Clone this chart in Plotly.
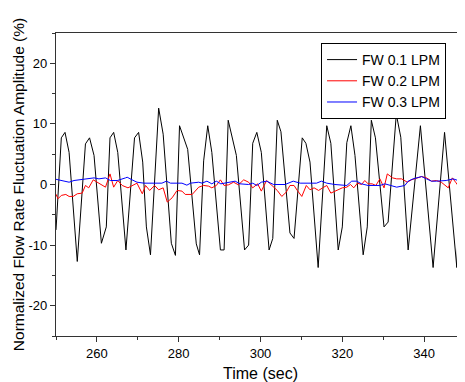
import plotly.graph_objects as go

# FW 0.1 LPM (black)
t1 = [250.0, 251.3, 252.2, 253.2, 255.2, 257.2, 258.2, 259.3, 261.1, 262.3, 263.2, 264.1, 265.1,
      267.1, 269.2, 270.2, 271.2, 272.1, 273.1, 275.1, 276.2, 278.2, 279.2, 280.2, 282.2, 284.3,
      285.1, 286.1, 287.1, 288.1, 290.2, 291.1, 292.1, 294.1, 296.1, 297.1, 298.1, 299.1, 300.2,
      302.1, 303.0, 304.1, 305.0, 307.2, 308.2, 310.2, 311.1, 312.1, 314.1, 316.2, 317.2, 319.0,
      320.0, 321.1, 322.1, 323.1, 325.1, 326.1, 327.1, 328.1, 330.2, 331.2, 333.2, 334.3, 336.1,
      339.1, 342.2, 345.0, 348.0, 349.1, 350.0]
v1 = [-7.5, 7.7, 8.6, 5.3, -12.7, 6.7, 7.7, 4.8, -9.7, -7.0, 7.7, 8.6, 5.3,
      -10.8, 7.7, 8.6, 3.7, -7.0, -11.6, 12.6, 8.3, -9.7, -11.7, 9.7, 5.8, -9.8,
      -11.6, 3.9, 9.7, 5.3, -10.8, -10.8, 10.6, 4.8, -10.8, -10.0, 6.8, 8.6, 5.3,
      -10.8, -8.9, 10.6, 8.7, -8.0, -8.9, 7.7, 6.8, 3.7, -13.7, 9.7, 6.8, -10.8,
      -7.0, 6.9, 9.7, 4.8, -11.6, -7.0, 10.6, 7.7, -7.0, -6.2, 11.6, 7.8, -10.8,
      9.7, -13.7, 8.6, -13.7, 7.7, 7.7]

# FW 0.2 LPM (red)
t2 = [249.9, 250.5, 251.3, 252.4, 253.2, 254.2, 255.2, 256.4, 257.2, 258.0, 259.1, 260.1, 262.1,
      263.2, 264.1, 265.1, 266.2, 267.6, 268.6, 269.8, 271.1, 271.9, 272.9, 274.1, 275.1, 276.2,
      277.2, 278.4, 279.6, 280.8, 281.6, 283.3, 284.9, 286.1, 287.3, 288.1, 289.2, 290.2, 291.1,
      292.2, 293.4, 294.6, 295.9, 297.1, 298.1, 299.3, 300.2, 301.5, 302.8, 304.1, 305.2, 306.3,
      307.2, 308.2, 309.0, 310.1, 311.2, 312.1, 313.1, 314.2, 315.2, 316.2, 317.2, 319.0, 320.0,
      321.1, 322.0, 322.8, 323.7, 324.7, 325.5, 326.3, 327.3, 328.2, 329.2, 330.2, 331.0, 332.3,
      333.3, 334.5, 335.9, 336.9, 338.1, 339.4, 340.6, 341.8, 343.0, 344.2, 345.9, 346.9, 347.7,
      348.7, 349.8]
v2 = [-1.5, -2.35, -1.8, -1.64, -1.97, -1.97, -1.53, -1.42, -0.16, -0.55, 0.77, 0.38, -0.44,
      1.75, -0.44, 0.66, -0.16, -0.55, -0.16, 0.22, -1.53, -0.16, -0.98, -0.16, -0.87, -0.55,
      -2.9, -2.19, -0.98, -1.09, -1.64, -1.64, -0.44, -0.16, -0.27, -0.55, -0.16, 0.77, -0.16,
      -0.05, 0.38, -0.05, 0.77, 0.38, -0.55, 0.11, -1.09, 0.66, -0.16, -0.98, -1.97, -1.26,
      -0.16, -0.16, -0.98, -1.97, -0.16, -0.87, -0.55, -0.98, -0.55, -0.16, -1.42, -0.87, -0.55,
      -0.44, 0.0, -0.55, 0.22, 0.0, 0.66, 0.11, 0.11, -0.16, 0.93, -0.55, 1.75, 1.09,
      0.93, 0.93, 0.38, 0.77, 1.09, 1.31, 1.09, 0.55, 0.66, 0.38, -0.55, 1.09, 0.38,
      -0.55, 0.11]

# FW 0.3 LPM (blue)
t3 = [249.5, 250.7, 251.9, 253.2, 254.4, 255.6, 256.8, 258.0, 259.3, 260.5, 262.1, 263.3, 265.0,
      267.0, 267.4, 268.6, 269.8, 271.5, 273.9, 275.9, 277.0, 278.0, 280.8, 282.0, 282.9, 284.9,
      285.7, 286.9, 288.1, 289.2, 290.3, 291.4, 293.8, 295.0, 297.1, 298.1, 299.1, 300.2, 301.5,
      303.2, 306.0, 308.0, 309.7, 313.7, 314.9, 316.2, 318.2, 321.1, 322.3, 323.5, 324.7, 326.3,
      329.2, 330.4, 331.6, 333.3, 335.3, 336.1, 337.3, 338.5, 339.4, 340.6, 341.8, 343.0, 345.4,
      347.1, 348.3, 349.8]
v3 = [0.93, 0.77, 0.55, 0.38, 0.66, 0.77, 0.93, 0.93, 1.09, 0.93, 1.09, 0.66, 0.66,
      1.09, 1.2, 0.77, 0.38, 0.22, 0.22, 0.22, 0.55, 0.22, 0.22, -0.11, 0.22, 0.38,
      0.22, 0.55, 0.11, 0.55, 0.11, 0.22, 0.55, 0.11, 0.0, 0.22, -0.16, 0.38, 0.55,
      0.0, 0.0, 0.55, 0.22, 0.22, 0.55, 0.22, 0.0, -0.16, 0.55, 0.55, 0.11, -0.16,
      -0.16, 0.11, -0.16, -0.44, -0.16, 0.55, 0.93, 1.09, 1.31, 0.93, 0.55, 0.55, 0.66,
      0.93, 0.66, 0.93]

x_ticks = [260, 280, 300, 320, 340]
y_ticks = [-20, -10, 0, 10, 20]
y_tick_text = ["-20", "-10", "0", "10", "20"]

FONT = "Liberation Sans, Arial, sans-serif"
AX = "#333333"

fig = go.Figure()
fig.add_trace(go.Scatter(x=t1, y=v1, mode="lines", name="FW 0.1 LPM",
                         line=dict(color="#000000", width=1)))
fig.add_trace(go.Scatter(x=t2, y=v2, mode="lines", name="FW 0.2 LPM",
                         line=dict(color="#ff0000", width=1)))
fig.add_trace(go.Scatter(x=t3, y=v3, mode="lines", name="FW 0.3 LPM",
                         line=dict(color="#0000ff", width=1)))

axis_common = dict(showgrid=False, zeroline=False, ticks="outside", ticklen=5,
                   linecolor=AX, linewidth=1.2, tickcolor=AX, showline=True,
                   tickfont=dict(family=FONT, size=13, color="#000000"))

# The page body adds an 8px offset, so the figure is sized to fit the 465x382 window.
fig.update_layout(
    width=457, height=374,
    margin=dict(l=48, r=0, t=25, b=46, autoexpand=False),
    paper_bgcolor="white", plot_bgcolor="white",
    font=dict(family=FONT, color="#000000"),
    showlegend=True,
    legend=dict(x=0.648, y=0.967, xanchor="left", yanchor="top",
                bordercolor="#000000", borderwidth=1, bgcolor="white",
                font=dict(family=FONT, size=14, color="#000000"),
                tracegroupgap=0),
    xaxis=dict(range=[250, 350], tickvals=x_ticks, mirror=True,
               minor=dict(ticks="outside", ticklen=3, dtick=10, tick0=250, tickcolor=AX),
               title=dict(text="Time (sec)", font=dict(family=FONT, size=16), standoff=11),
               automargin=False, **axis_common),
    yaxis=dict(range=[-25, 25], tickvals=y_ticks, ticktext=y_tick_text, mirror=False,
               minor=dict(ticks="outside", ticklen=3, dtick=5, tick0=-25, tickcolor=AX),
               title=dict(text="Normalized Flow Rate Fluctuation Amplitude (%)",
                          font=dict(family=FONT, size=15.5), standoff=0),
               automargin=False, **axis_common),
)

fig.write_html("out.html")
